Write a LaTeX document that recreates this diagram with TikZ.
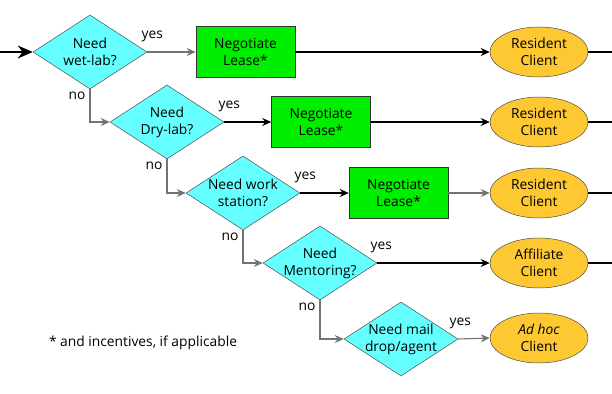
\documentclass[tikz,border=0pt]{standalone}
\usepackage{fontspec}
\setmainfont{Open Sans}
\usetikzlibrary{shapes.geometric,arrows.meta}
\definecolor{diacyan}{RGB}{102,255,255}
\definecolor{boxgreen}{RGB}{0,238,0}
\definecolor{ellyellow}{RGB}{253,200,50}
\tikzset{
  dia/.style={diamond, draw=black!70, line width=0.5pt, fill=diacyan, inner sep=0pt, minimum width=114pt, minimum height=74pt},
  lbox/.style={rectangle, draw=black!80, line width=0.6pt, fill=boxgreen, minimum width=99pt, minimum height=51pt, align=center, inner sep=0pt},
  cli/.style={ellipse, draw=black!70, line width=0.5pt, fill=ellyellow, minimum width=98pt, minimum height=50pt, align=center, inner sep=0pt},
  txt/.style={font=\fontsize{13.8}{17}\selectfont, align=center},
  conn/.style={line width=1.1pt, -{Stealth[length=9pt,width=8pt]}},
  gconn/.style={conn, draw=black!55},
  plain/.style={line width=1.1pt},
  lbl/.style={font=\fontsize{13.8}{15}\selectfont, inner sep=0pt}
}
\begin{document}
\begin{tikzpicture}[x=1pt,y=-1pt]
\useasboundingbox (0,0) rectangle (612,393);
% diamonds
\node[dia, label={[txt]center:Need\\wet-lab?}] (d1) at (90,52) {};
\node[dia, label={[txt]center:Need\\Dry-lab?}] (d2) at (167,122) {};
\node[dia, label={[txt]center:Need work\\station?}] (d3) at (243,193) {};
\node[dia, label={[txt]center:Need\\Mentoring?}] (d4) at (320,263) {};
\node[dia, label={[txt]center:Need mail\\drop/agent}] (d5) at (401,339) {};
% boxes
\node[lbox, txt] (b1) at (245.5,52) {Negotiate\\Lease*};
\node[lbox, txt] (b2) at (321,122) {Negotiate\\Lease*};
\node[lbox, txt] (b3) at (398.5,193) {Negotiate\\Lease*};
% ellipses
\node[cli, txt] (e1) at (539,52) {Resident\\Client};
\node[cli, txt] (e2) at (539,122) {Resident\\Client};
\node[cli, txt] (e3) at (539,193) {Resident\\Client};
\node[cli, txt] (e4) at (539,263) {Affiliate\\Client};
\node[cli, txt] (e5) at (539,338) {\textit{Ad hoc}\\Client};
% edge coordinates
\coordinate (in) at (0,52);
\coordinate (o1) at (612,52);
\coordinate (o2) at (612,122);
\coordinate (o3) at (612,193);
\coordinate (o4) at (612,263);
% entry
\draw[line width=2pt, -{Stealth[length=15pt,width=13pt]}] (in) -- (d1.west);
% yes connectors
\draw[gconn] (d1.east) -- (b1.west);
\draw[conn] (d2.east) -- (b2.west);
\draw[conn] (d3.east) -- (b3.west);
\draw[conn] (d4.east) -- (e4.west);
\draw[gconn] (d5.east) -- (e5.west);
% box to client
\draw[conn, line width=1.6pt] (b1.east) -- (e1.west);
\draw[conn] (b2.east) -- (e2.west);
\draw[gconn] (b3.east) -- (e3.west);
% client outgoing
\draw[plain] (e1.east) -- (o1);
\draw[plain] (e2.east) -- (o2);
\draw[plain] (e3.east) -- (o3);
\draw[plain] (e4.east) -- (o4);
% no connectors
\draw[gconn] (d1.south) |- (d2.west);
\draw[gconn] (d2.south) |- (d3.west);
\draw[gconn] (d3.south) |- (d4.west);
\draw[gconn] (d4.south) |- (d5.west);
% labels
\node[lbl] (y1) at ([shift={(5,-16)}]d1.east) {yes};
\node[lbl] (y2) at ([shift={(5,-16)}]d2.east) {yes};
\node[lbl] (y3) at ([shift={(5,-16)}]d3.east) {yes};
\node[lbl] (y4) at ([shift={(4,-16)}]d4.east) {yes};
\node[lbl] (y5) at ([shift={(2,-16)}]d5.east) {yes};
\node[lbl] (n1) at ([shift={(-13,7)}]d1.south) {no};
\node[lbl] (n2) at ([shift={(-13,7)}]d2.south) {no};
\node[lbl] (n3) at ([shift={(-13,7)}]d3.south) {no};
\node[lbl] (n4) at ([shift={(-13,7)}]d4.south) {no};
\node[lbl] (note) at (143,343) {* and incentives, if applicable};
\end{tikzpicture}
\end{document}
